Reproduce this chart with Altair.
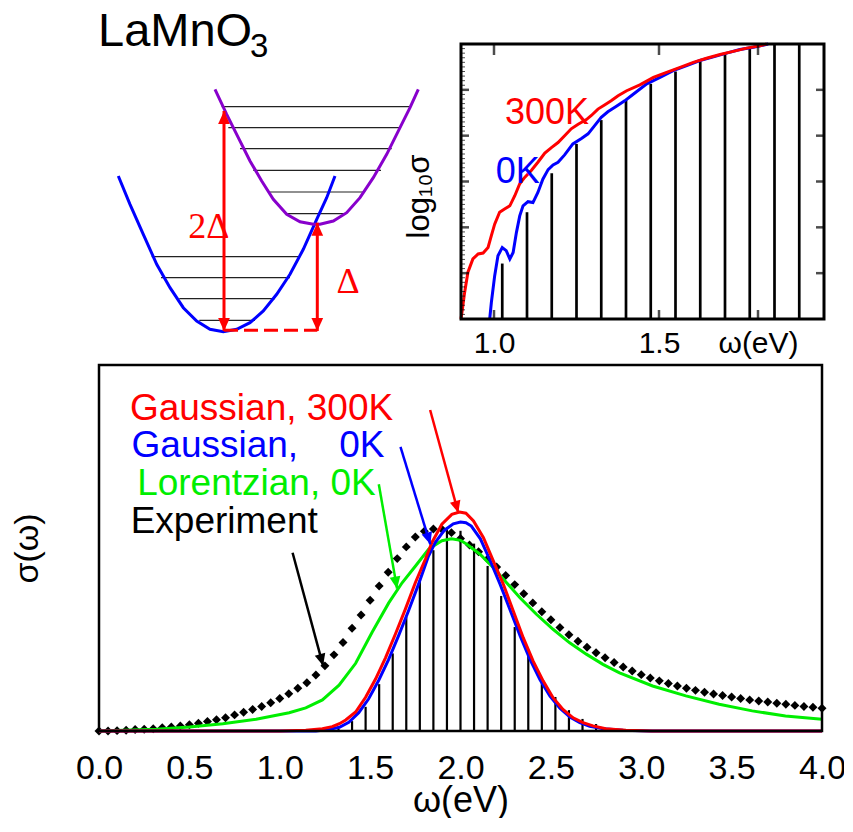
import math
import altair as alt
import pandas as pd

FONT = "Liberation Sans"
SERIF = "Liberation Serif"
RED, BLUE, GREEN, PURPLE, BLACK = "#ff0000", "#0000ff", "#00ee00", "#8800cc", "#000000"
HEAD = "M0,0L-0.45,1L0.45,1Z"  # arrow head, tip at the anchor, pointing up

# ---------------- main panel: sigma(omega) ----------------
MAIN_W_DOMAIN = [0.0, 4.0]
MAIN_S_DOMAIN = [0.0, 1.0]
MAIN_TICKS = [0.0, 0.5, 1.0, 1.5, 2.0, 2.5, 3.0, 3.5, 4.0]

EXP_OMEGA = [round(0.05 * k, 2) for k in range(81)]
EXP_SIGMA = [0.0, 0.0, 0.001, 0.002, 0.004, 0.005, 0.006, 0.009, 0.011, 0.014, 0.017,
             0.021, 0.026, 0.031, 0.036, 0.044, 0.051, 0.059, 0.067, 0.077, 0.089,
             0.102, 0.117, 0.132, 0.153, 0.178, 0.208, 0.242, 0.281, 0.317, 0.357,
             0.396, 0.434, 0.471, 0.503, 0.530,
             0.546, 0.552, 0.550, 0.542, 0.526, 0.508, 0.490, 0.470, 0.448,
             0.425, 0.400, 0.375, 0.350, 0.326, 0.304, 0.283, 0.263, 0.245, 0.229,
             0.214, 0.200, 0.187, 0.175, 0.164, 0.154, 0.145, 0.137, 0.130, 0.123,
             0.117, 0.111, 0.106, 0.101, 0.097, 0.093, 0.089, 0.085, 0.082, 0.079,
             0.076, 0.073, 0.070, 0.067, 0.065, 0.062]

RED_OMEGA = [0.0, 1.0, 1.144, 1.236, 1.29, 1.33, 1.365, 1.42, 1.475, 1.53, 1.585, 1.64,
             1.695, 1.75, 1.806, 1.842, 1.897, 1.952, 1.995, 2.03, 2.072, 2.127, 2.182,
             2.237, 2.292, 2.347, 2.402, 2.457, 2.512, 2.567, 2.623, 2.678, 2.733, 2.804,
             2.915, 3.063, 4.0]
RED_SIGMA = [0.0, 0.0, 0.002, 0.006, 0.012, 0.02, 0.03, 0.052, 0.092, 0.142, 0.2, 0.265,
             0.333, 0.405, 0.47, 0.515, 0.565, 0.592, 0.598, 0.595, 0.574, 0.528, 0.464,
             0.401, 0.328, 0.255, 0.191, 0.137, 0.091, 0.059, 0.036, 0.023, 0.014, 0.006,
             0.002, 0.0, 0.0]

BLUE_OMEGA = [0.0, 1.2, 1.27, 1.33, 1.382, 1.437, 1.492, 1.547, 1.602, 1.657, 1.712, 1.767,
              1.823, 1.86, 1.91, 1.96, 2.0, 2.03, 2.06, 2.11, 2.165, 2.22, 2.275, 2.33,
              2.385, 2.44, 2.495, 2.55, 2.605, 2.66, 2.715, 2.79, 2.9, 3.05, 4.0]
BLUE_SIGMA = [0.0, 0.0, 0.004, 0.01, 0.024, 0.05, 0.088, 0.138, 0.195, 0.26, 0.328, 0.4,
              0.478, 0.515, 0.548, 0.566, 0.571, 0.569, 0.56, 0.525, 0.465, 0.40, 0.33, 0.26,
              0.195, 0.14, 0.095, 0.062, 0.038, 0.023, 0.013, 0.006, 0.002, 0.0, 0.0]

GREEN_OMEGA = [0.0, 0.318, 0.501, 0.685, 0.869, 1.052, 1.144, 1.236, 1.328, 1.42, 1.511,
               1.603, 1.677, 1.75, 1.824, 1.897, 1.95, 2.0, 2.035, 2.108, 2.182, 2.255,
               2.329, 2.42, 2.512, 2.604, 2.696, 2.788, 2.88, 3.063, 3.247, 3.431, 3.614,
               3.798, 4.0]
GREEN_SIGMA = [0.0, 0.005, 0.011, 0.02, 0.032, 0.05, 0.063, 0.085, 0.125, 0.185, 0.27,
               0.35, 0.405, 0.45, 0.497, 0.52, 0.525, 0.521, 0.51, 0.483, 0.446, 0.405,
               0.364, 0.319, 0.278, 0.241, 0.21, 0.182, 0.159, 0.123, 0.096, 0.073, 0.055,
               0.041, 0.032]

STICK_OMEGA = [1.25, 1.325, 1.4, 1.475, 1.55, 1.625, 1.7, 1.775, 1.85, 1.925, 2.0, 2.075,
               2.15, 2.225, 2.3, 2.375, 2.45, 2.525, 2.6, 2.675, 2.75, 2.825, 2.9, 2.975]
STICK_SIGMA = [0.001, 0.006, 0.027, 0.066, 0.128, 0.212, 0.311, 0.412, 0.494, 0.551, 0.547,
               0.512, 0.451, 0.369, 0.284, 0.208, 0.142, 0.093, 0.057, 0.033, 0.019, 0.008,
               0.003, 0.001]

LEGEND_TEXT = ["Gaussian, 300K", "Gaussian,\u00a0\u00a0\u00a0\u00a00K", "Lorentzian, 0K", "Experiment"]
LEGEND_OMEGA = [0.171, 0.180, 0.211, 0.175]
LEGEND_SIGMA = [0.849, 0.749, 0.645, 0.542]
LEGEND_COLOR = [RED, BLUE, GREEN, BLACK]

ARROW_W1 = [1.832, 1.668, 1.548, 1.071]
ARROW_S1 = [0.877, 0.776, 0.674, 0.487]
ARROW_W2 = [1.988, 1.833, 1.649, 1.240]
ARROW_S2 = [0.596, 0.510, 0.389, 0.178]
ARROW_COLOR = [RED, BLUE, GREEN, BLACK]

# ---------------- inset: log10 sigma ----------------
INS_W_DOMAIN = [0.9, 2.0]
INS_L_DOMAIN = [0.0, 6.0]
INS_TICKS = [1.0, 1.5, 1.8]
INS_STICK_OMEGA = [1.025, 1.1, 1.175, 1.25, 1.325, 1.4, 1.475, 1.55, 1.625, 1.7, 1.775, 1.85, 1.925]
INS_STICK_LOG = [1.21, 2.33, 3.18, 3.82, 4.34, 4.78, 5.13, 5.40, 5.62, 5.79, 5.93, 6.0, 6.0]
INS_RED_OMEGA = [0.9, 0.904, 0.911, 0.921, 0.936, 0.952, 0.967, 0.982, 0.992, 1.002, 1.017,
                 1.032, 1.048, 1.063, 1.078, 1.093, 1.113, 1.133, 1.154, 1.174, 1.194, 1.214,
                 1.234, 1.255, 1.28, 1.295, 1.315, 1.335, 1.355, 1.376, 1.402, 1.442, 1.483,
                 1.523, 1.564, 1.604, 1.644, 1.685, 1.725, 1.766, 1.806, 1.826]
INS_RED_LOG = [0.0, 0.2, 0.58, 1.02, 1.31, 1.42, 1.44, 1.56, 1.82, 2.07, 2.33, 2.40, 2.47,
               2.69, 2.95, 3.09, 3.24, 3.42, 3.62, 3.74, 3.85, 4.0, 4.15, 4.25, 4.35, 4.44,
               4.58, 4.67, 4.76, 4.87, 4.98, 5.11, 5.27, 5.38, 5.49, 5.60, 5.69, 5.77, 5.84,
               5.91, 5.96, 6.0]
INS_BLUE_OMEGA = [0.987, 0.992, 1.002, 1.012, 1.025, 1.037, 1.048, 1.058, 1.068, 1.078, 1.088,
                  1.103, 1.118, 1.133, 1.148, 1.164, 1.179, 1.194, 1.214, 1.239, 1.265, 1.285,
                  1.305, 1.325, 1.345, 1.371, 1.396, 1.416, 1.463, 1.503, 1.543, 1.584, 1.624,
                  1.665, 1.705, 1.745, 1.786, 1.831]
INS_BLUE_LOG = [0.0, 0.36, 0.94, 1.38, 1.56, 1.49, 1.31, 1.45, 1.89, 2.25, 2.47, 2.56, 2.54,
                2.76, 3.05, 3.26, 3.36, 3.42, 3.58, 3.82, 3.94, 4.04, 4.22, 4.40, 4.52, 4.64,
                4.76, 4.87, 5.13, 5.27, 5.42, 5.53, 5.64, 5.72, 5.80, 5.88, 5.93, 6.0]
INS_TEXT = ["300K", "0K"]
INS_TEXT_OMEGA = [1.033, 1.005]
INS_TEXT_LOG = [4.25, 2.96]
INS_TEXT_COLOR = [RED, BLUE]

# ---------------- schematic: configuration-coordinate diagram ----------------
SCH_Q_DOMAIN = [-1.25, 2.14]
SCH_E_DOMAIN = [0.127, 2.877]
LOWER_Q = [-1.057, -0.94, -0.807, -0.673, -0.54, -0.407, -0.273, -0.14, -0.007, 0.127, 0.26,
           0.393, 0.527, 0.66, 0.793, 0.927, 1.027, 1.11]
LOWER_E = [1.557, 1.274, 0.974, 0.674, 0.44, 0.24, 0.107, 0.024, 0.0, 0.024, 0.09, 0.207,
           0.374, 0.574, 0.824, 1.124, 1.34, 1.557]
UPPER_Q = [-0.09, 0.027, 0.143, 0.26, 0.377, 0.493, 0.627, 0.76, 0.893, 0.96, 1.093, 1.227,
           1.36, 1.493, 1.627, 1.76, 1.86, 1.943]
UPPER_E = [2.424, 2.174, 1.94, 1.707, 1.507, 1.324, 1.174, 1.1, 1.074, 1.074, 1.107, 1.19,
           1.34, 1.54, 1.774, 2.04, 2.24, 2.424]
LEVEL_E = [0.114, 0.33, 0.54, 0.75, 1.18, 1.397, 1.614, 1.83, 2.04, 2.25]
LEVEL_Q1 = [-0.247, -0.447, -0.63, -0.723, 0.627, 0.443, 0.293, 0.16, 0.043, -0.023]
LEVEL_Q2 = [0.31, 0.51, 0.66, 0.76, 1.21, 1.41, 1.57, 1.677, 1.77, 1.86]
GAP_Q = [0.0, 0.933]          # 2Delta and Delta arrows
GAP_E_LOW = [0.007, 0.007]
GAP_E_HIGH = [2.207, 1.09]
DASH_E = 0.014

W_MAIN, H_MAIN = 723, 366
W_INS, H_INS = 363, 275
W_SCH, H_SCH = 339, 275


def head_angle(x1, y1, x2, y2, sx, sy):
    dx = (x2 - x1) * sx
    dy = -(y2 - y1) * sy
    return math.degrees(math.atan2(dx, -dy)) % 360


# ================= main panel =================
AX_MX = alt.Axis(values=MAIN_TICKS, format=".1f", labelFontSize=34, labelPadding=20,
                 labelFlush=False, ticks=False, domain=False, grid=False, title="ω(eV)",
                 titleFontSize=36, titlePadding=-2)
AX_MY = alt.Axis(labels=False, ticks=False, domain=False, grid=False, title="σ(ω)",
                 titleFontSize=34, titlePadding=55)
SC_MX = alt.Scale(domain=MAIN_W_DOMAIN)
SC_MY = alt.Scale(domain=MAIN_S_DOMAIN)


def mx(f):
    return alt.X(f, type="quantitative", scale=SC_MX, axis=AX_MX)


def my(f):
    return alt.Y(f, type="quantitative", scale=SC_MY, axis=AX_MY)


sticks = alt.Chart(pd.DataFrame({"w": STICK_OMEGA, "s": STICK_SIGMA, "b": 0.0})).mark_rule(
    color="black", strokeWidth=2.2).encode(x=mx("w"), y=my("s"), y2=alt.Y2("b"))
exp = alt.Chart(pd.DataFrame({"w": EXP_OMEGA, "s": EXP_SIGMA})).mark_point(
    shape="diamond", filled=True, size=80, color="black", opacity=1).encode(x=mx("w"), y=my("s"))


def curve(ws, ss, color):
    return alt.Chart(pd.DataFrame({"w": ws, "s": ss})).mark_line(
        color=color, strokeWidth=3).encode(x=mx("w"), y=my("s"))


sxm = W_MAIN / (MAIN_W_DOMAIN[1] - MAIN_W_DOMAIN[0])
sym = H_MAIN / (MAIN_S_DOMAIN[1] - MAIN_S_DOMAIN[0])
arr_df = pd.DataFrame({"w": ARROW_W1, "s": ARROW_S1, "w2": ARROW_W2, "s2": ARROW_S2, "c": ARROW_COLOR})
arr_df["a"] = [head_angle(a, b, c, d, sxm, sym) for a, b, c, d in zip(ARROW_W1, ARROW_S1, ARROW_W2, ARROW_S2)]
arrow_lines = alt.Chart(arr_df).mark_rule(strokeWidth=2.5).encode(
    x=mx("w"), y=my("s"), x2=alt.X2("w2"), y2=alt.Y2("s2"), color=alt.Color("c:N", scale=None))
arrow_heads = alt.Chart(arr_df).mark_point(shape=HEAD, filled=True, size=576, opacity=1).encode(
    x=mx("w2"), y=my("s2"), angle=alt.Angle("a:Q", scale=None), color=alt.Color("c:N", scale=None))
legend = alt.Chart(pd.DataFrame({"w": LEGEND_OMEGA, "s": LEGEND_SIGMA, "t": LEGEND_TEXT, "c": LEGEND_COLOR})).mark_text(
    align="left", baseline="alphabetic", font=FONT, fontSize=37).encode(
    x=mx("w"), y=my("s"), text="t:N", color=alt.Color("c:N", scale=None))
frame_m = alt.Chart(pd.DataFrame({"w": [MAIN_W_DOMAIN[0]], "w2": [MAIN_W_DOMAIN[1]],
                                  "s": [MAIN_S_DOMAIN[0]], "s2": [MAIN_S_DOMAIN[1]]})).mark_rect(
    fillOpacity=0, stroke="black", strokeWidth=2.5).encode(x=mx("w"), x2=alt.X2("w2"), y=my("s"), y2=alt.Y2("s2"))

main = alt.layer(sticks, exp, curve(GREEN_OMEGA, GREEN_SIGMA, GREEN), curve(BLUE_OMEGA, BLUE_SIGMA, BLUE),
                 curve(RED_OMEGA, RED_SIGMA, RED), arrow_lines, arrow_heads, legend, frame_m).properties(
    width=W_MAIN, height=H_MAIN)

# ================= inset =================
AX_IX = alt.Axis(values=INS_TICKS, labelExpr="datum.value > 1.7 ? 'ω(eV)' : format(datum.value, '.1f')",
                 labelFontSize=30, labelPadding=9, labelFlush=False, ticks=False, domain=False,
                 grid=False, title="")
AX_IY = alt.Axis(labels=False, ticks=False, domain=False, grid=False, title="log₁₀σ",
                 titleFontSize=31, titlePadding=26, titleY=152)
SC_IX = alt.Scale(domain=INS_W_DOMAIN)
SC_IY = alt.Scale(domain=INS_L_DOMAIN)


def ix(f):
    return alt.X(f, type="quantitative", scale=SC_IX, axis=AX_IX)


def iy(f):
    return alt.Y(f, type="quantitative", scale=SC_IY, axis=AX_IY)


ins_sticks = alt.Chart(pd.DataFrame({"w": INS_STICK_OMEGA, "l": INS_STICK_LOG, "b": 0.0})).mark_rule(
    color="black", strokeWidth=2.7).encode(x=ix("w"), y=iy("l"), y2=alt.Y2("b"))
ins_blue = alt.Chart(pd.DataFrame({"w": INS_BLUE_OMEGA, "l": INS_BLUE_LOG})).mark_line(
    color=BLUE, strokeWidth=3).encode(x=ix("w"), y=iy("l"))
ins_red = alt.Chart(pd.DataFrame({"w": INS_RED_OMEGA, "l": INS_RED_LOG})).mark_line(
    color=RED, strokeWidth=3).encode(x=ix("w"), y=iy("l"))
ins_text = alt.Chart(pd.DataFrame({"w": INS_TEXT_OMEGA, "l": INS_TEXT_LOG, "t": INS_TEXT, "c": INS_TEXT_COLOR})).mark_text(
    align="left", baseline="alphabetic", font=FONT, fontSize=36).encode(
    x=ix("w"), y=iy("l"), text="t:N", color=alt.Color("c:N", scale=None))
MAJOR = [1, 2, 3, 4, 5]
MINOR = [round(k / 10, 1) for k in range(1, 60) if k % 10]
t_left = alt.Chart(pd.DataFrame({"w": INS_W_DOMAIN[0], "l": MAJOR})).mark_tick(
    orient="horizontal", size=8, thickness=2.5, color="black", xOffset=4).encode(x=ix("w"), y=iy("l"))
t_right = alt.Chart(pd.DataFrame({"w": INS_W_DOMAIN[1], "l": MAJOR})).mark_tick(
    orient="horizontal", size=8, thickness=2.5, color="black", xOffset=-4).encode(x=ix("w"), y=iy("l"))
t_minor = alt.Chart(pd.DataFrame({"w": INS_W_DOMAIN[0], "l": MINOR})).mark_tick(
    orient="horizontal", size=4, thickness=1, color="black", xOffset=2).encode(x=ix("w"), y=iy("l"))
t_top = alt.Chart(pd.DataFrame({"w": INS_TICKS, "l": INS_L_DOMAIN[1]})).mark_tick(
    orient="vertical", size=11, thickness=2.5, color="black", yOffset=5.5).encode(x=ix("w"), y=iy("l"))
t_bot = alt.Chart(pd.DataFrame({"w": INS_TICKS, "l": INS_L_DOMAIN[0]})).mark_tick(
    orient="vertical", size=9, thickness=2.5, color="black", yOffset=-4.5).encode(x=ix("w"), y=iy("l"))
frame_i = alt.Chart(pd.DataFrame({"w": [INS_W_DOMAIN[0]], "w2": [INS_W_DOMAIN[1]],
                                  "l": [INS_L_DOMAIN[0]], "l2": [INS_L_DOMAIN[1]]})).mark_rect(
    fillOpacity=0, stroke="black", strokeWidth=3).encode(x=ix("w"), x2=alt.X2("w2"), y=iy("l"), y2=alt.Y2("l2"))

inset = alt.layer(ins_sticks, ins_blue, ins_red, ins_text, t_minor, t_left, t_right, t_top, t_bot,
                  frame_i).properties(width=W_INS, height=H_INS)

# ================= schematic =================
SC_SX = alt.Scale(domain=SCH_Q_DOMAIN)
SC_SY = alt.Scale(domain=SCH_E_DOMAIN)


def sx(f):
    return alt.X(f, type="quantitative", scale=SC_SX, axis=None)


def sy(f):
    return alt.Y(f, type="quantitative", scale=SC_SY, axis=None)


levels = alt.Chart(pd.DataFrame({"q": LEVEL_Q1, "q2": LEVEL_Q2, "e": LEVEL_E})).mark_rule(
    color="#222222", strokeWidth=1.2).encode(x=sx("q"), x2=alt.X2("q2"), y=sy("e"))
lower = alt.Chart(pd.DataFrame({"q": LOWER_Q, "e": LOWER_E})).mark_line(
    color=BLUE, strokeWidth=3).encode(x=sx("q"), y=sy("e"))
upper = alt.Chart(pd.DataFrame({"q": UPPER_Q, "e": UPPER_E})).mark_line(
    color=PURPLE, strokeWidth=3).encode(x=sx("q"), y=sy("e"))
gap_df = pd.DataFrame({"q": GAP_Q, "e": GAP_E_LOW, "e2": GAP_E_HIGH})
gap_lines = alt.Chart(gap_df).mark_rule(color=RED, strokeWidth=3).encode(
    x=sx("q"), y=sy("e"), y2=alt.Y2("e2"))
dash = alt.Chart(pd.DataFrame({"q": [GAP_Q[0]], "q2": [GAP_Q[1]], "e": [DASH_E]})).mark_rule(
    color=RED, strokeWidth=3, strokeDash=[14, 6]).encode(x=sx("q"), x2=alt.X2("q2"), y=sy("e"))
heads_df = pd.DataFrame({"q": GAP_Q + GAP_Q, "e": GAP_E_HIGH + GAP_E_LOW, "a": [0, 0, 180, 180]})
gap_heads = alt.Chart(heads_df).mark_point(shape=HEAD, filled=True, size=676, opacity=1, color=RED).encode(
    x=sx("q"), y=sy("e"), angle=alt.Angle("a:Q", scale=None))
greek = alt.Chart(pd.DataFrame({"q": [-0.357, 1.125], "e": [0.934, 0.39], "t": ["2Δ", "Δ"]})).mark_text(
    align="left", baseline="alphabetic", font=SERIF, fontSize=36, color=RED).encode(
    x=sx("q"), y=sy("e"), text="t:N")
formula = alt.Chart(pd.DataFrame({"q": [-1.26], "e": [2.86], "t": ["LaMnO"]})).mark_text(
    align="left", baseline="alphabetic", font=FONT, fontSize=47, color="black").encode(
    x=sx("q"), y=sy("e"), text="t:N")
formula_sub = alt.Chart(pd.DataFrame({"q": [0.26], "e": [2.743], "t": ["3"]})).mark_text(
    align="left", baseline="alphabetic", font=FONT, fontSize=33, color="black").encode(
    x=sx("q"), y=sy("e"), text="t:N")

schematic = alt.layer(levels, lower, upper, dash, gap_lines, gap_heads, greek, formula,
                      formula_sub).properties(width=W_SCH, height=H_SCH)

top = alt.hconcat(schematic, inset, spacing=23, bounds="flush")
chart = alt.vconcat(top, main, spacing=5, background="white",
                    padding={"left": 2, "top": -1, "right": -2, "bottom": 0})
chart = chart.configure_view(stroke=None).configure_axis(
    labelFont=FONT, titleFont=FONT, titleFontWeight="normal", labelColor="black", titleColor="black")

chart.save("out.html", embed_options={"renderer": "svg", "actions": False})
